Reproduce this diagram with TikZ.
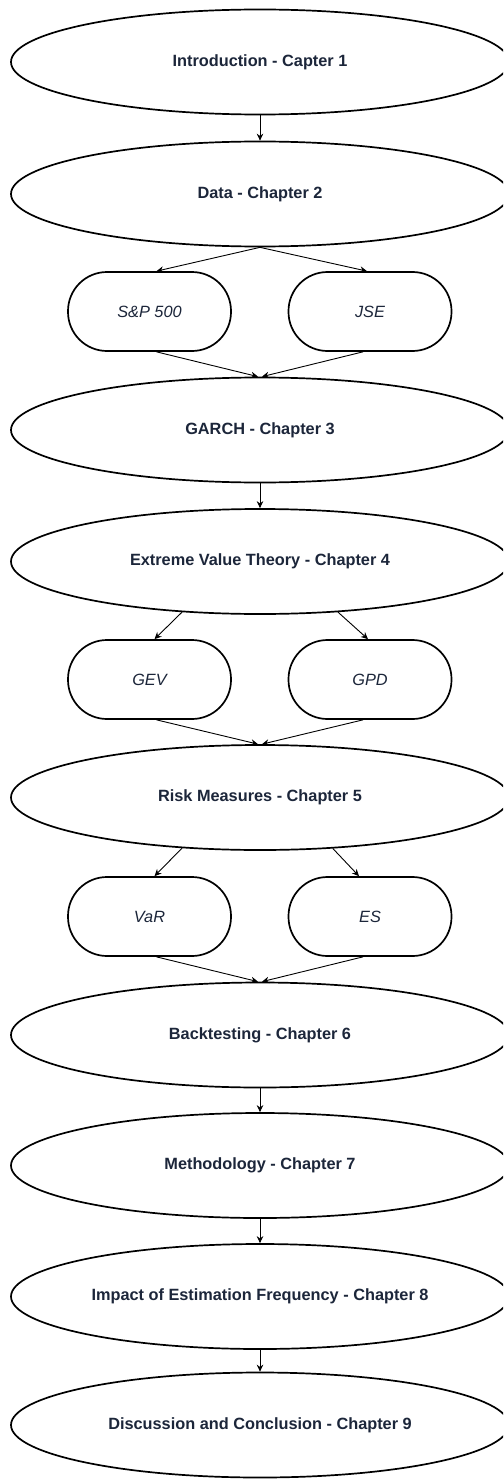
\documentclass[tikz,border=0pt]{standalone}
\usepackage{fontspec}
\setmainfont{Liberation Sans}
\usetikzlibrary{arrows.meta,calc,shapes.geometric}
\definecolor{txt}{RGB}{28,38,58}
\tikzset{
  chap/.style={draw=black, line width=1.7pt, ellipse, minimum width=498pt, minimum height=105pt, inner sep=0pt,
    font=\fontsize{16.3}{19}\selectfont\bfseries, text=txt, fill=white},
  sub/.style={draw=black, line width=1.7pt, rectangle, rounded corners=39pt, minimum width=163pt, minimum height=79pt, inner sep=0pt,
    font=\fontsize{16.3}{19}\selectfont\itshape, text=txt, fill=white},
  conn/.style={draw=black, line width=0.9pt, -{Stealth[length=7pt,width=6.5pt]}},
}
\begin{document}
\begin{tikzpicture}[x=1pt,y=-1pt]
\useasboundingbox (0,0) rectangle (503,1479);
\clip (0,0) rectangle (503,1479);
\node[chap] (intro) at (260,62) {Introduction - Capter 1};
\node[chap] (data) at (260,194) {Data - Chapter 2};
\node[sub] (sp) at (149.5,311.5) {S\&P 500};
\node[sub] (jse) at (370,311.5) {JSE};
\node[chap] (garch) at (260,430) {GARCH - Chapter 3};
\node[chap] (evt) at (260,561.5) {Extreme Value Theory - Chapter 4};
\node[sub] (gev) at (149.5,679.5) {GEV};
\node[sub] (gpd) at (370,679.5) {GPD};
\node[chap] (risk) at (260,797.5) {Risk Measures - Chapter 5};
\node[sub] (var) at (149.5,916.5) {VaR};
\node[sub] (es) at (370,916.5) {ES};
\node[chap] (back) at (260,1035) {Backtesting - Chapter 6};
\node[chap] (meth) at (260,1165.5) {Methodology - Chapter 7};
\node[chap] (impact) at (260,1296.5) {Impact of Estimation Frequency - Chapter 8};
\node[chap] (concl) at (260,1425) {Discussion and Conclusion - Chapter 9};

\draw[conn] (intro.south) -- (data.north);
\draw[conn] (data.south) -- ($(sp.north)+(7,0)$);
\draw[conn] (data.south) -- ($(jse.north)+(-3,0)$);
\draw[conn] ($(sp.south)+(7,0)$) -- ($(garch.north)+(-2,0)$);
\draw[conn] ($(jse.south)+(-7,0)$) -- ($(garch.north)+(2,0)$);
\draw[conn] (garch.south) -- (evt.north);
\draw[conn] (evt.213) -- ($(gev.north)+(5,0)$);
\draw[conn] (evt.327) -- ($(gpd.north)+(-2,0)$);
\draw[conn] ($(gev.south)+(7,0)$) -- ($(risk.north)+(-2,0)$);
\draw[conn] ($(gpd.south)+(-7,0)$) -- ($(risk.north)+(2,0)$);
\draw[conn] (risk.213) -- ($(var.north)+(5,0)$);
\draw[conn] (risk.325) -- ($(es.north)+(-11,0)$);
\draw[conn] ($(var.south)+(7,0)$) -- ($(back.north)+(-2,0)$);
\draw[conn] ($(es.south)+(-7,0)$) -- ($(back.north)+(2,0)$);
\draw[conn] (back.south) -- (meth.north);
\draw[conn] (meth.south) -- (impact.north);
\draw[conn] (impact.south) -- (concl.north);
\end{tikzpicture}
\end{document}
